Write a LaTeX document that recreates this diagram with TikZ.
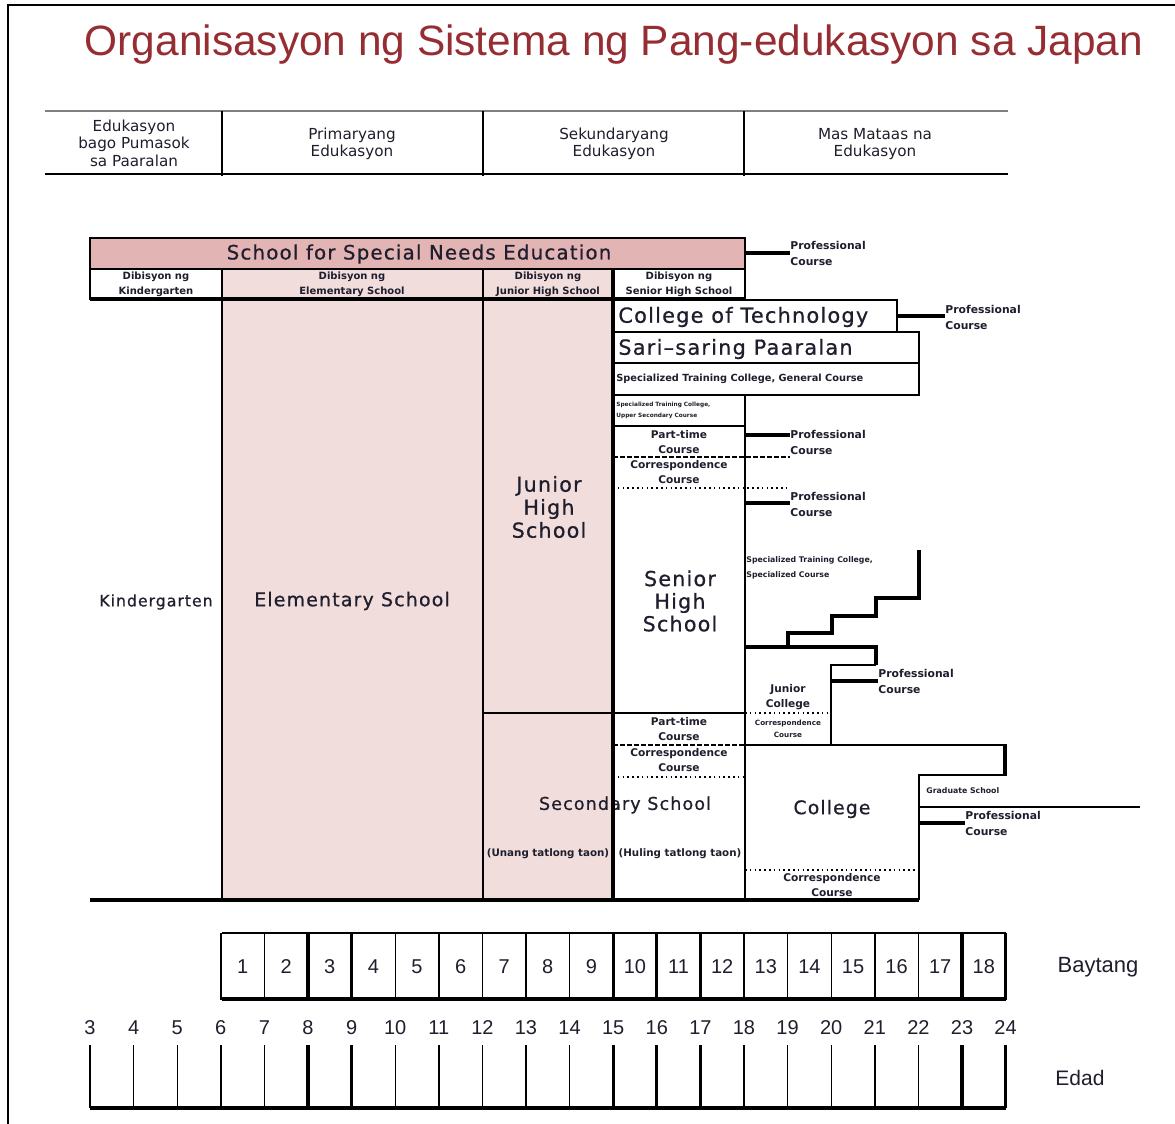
\documentclass[tikz,border=0pt]{standalone}
\usepackage{fontspec}
\setmainfont{DejaVu Sans}
\newfontfamily\arialfont{Liberation Sans}
\newfontfamily\widefont[LetterSpace=6,FakeBold=0.7]{DejaVu Sans}
\usetikzlibrary{positioning}
\definecolor{titlered}{RGB}{150,45,50}
\definecolor{sneedpink}{RGB}{227,180,180}
\definecolor{palepink}{RGB}{242,221,221}
\definecolor{txtcol}{RGB}{30,30,45}
\newcommand{\fsz}[2]{\fontsize{#1}{#2}\selectfont}

\begin{document}
\begin{tikzpicture}[x=0.5pt,y=-0.5pt]
  \tikzstyle{thinline}=[line width=0.7pt]
  \tikzstyle{boxline}=[line width=1pt]
  \tikzstyle{heavy}=[line width=1.6pt]
  \tikzstyle{proflink}=[line width=2.2pt]
  \tikzstyle{dashline}=[line width=0.9pt,dash pattern=on 2.5pt off 1pt]
  \tikzstyle{dotline}=[line width=1.3pt,dash pattern=on 0.8pt off 1.6pt]
  \tikzstyle{lbl}=[inner sep=0pt,align=center,text=txtcol]
  \tikzstyle{bigtxt}=[lbl,font=\widefont\fsz{9.5}{11.5}]
  \tikzstyle{headtxt}=[lbl,font=\fsz{7.6}{8.7}]
  \tikzstyle{divtxt}=[lbl,font=\bfseries\fsz{5}{7.5}]
  \tikzstyle{smalltxt}=[lbl,font=\bfseries\fsz{5.3}{7.8}]
  \tikzstyle{proftxt}=[lbl,anchor=west,align=left,font=\bfseries\fsz{5.4}{8}]
  \tikzstyle{numtxt}=[lbl,font=\arialfont\fsz{10}{12}]
  \useasboundingbox (0,0) rectangle (1175,1124);

  % page frame
  \draw[line width=1pt] (8,1124) -- (8,5) -- (1175,5);
  \node[inner sep=0pt,font=\arialfont\fsz{21.2}{24},text=titlered] (title) at (614,45)
    {Organisasyon ng Sistema ng Pang-edukasyon sa Japan};

  % header row
  \draw[line width=0.6pt,gray] (45,111) -- (1008,111);
  \draw[line width=1.2pt] (45,174) -- (1008,174);
  \foreach \hx in {222,483,744}
    \draw[thinline] (\hx,111) -- (\hx,176);
  \node[headtxt] (pre) at (134,143) {Edukasyon\\bago Pumasok\\sa Paaralan};
  \node[headtxt] (prim) at (352,144) {Primaryang\\Edukasyon};
  \node[headtxt] (sec) at (614,144) {Sekundaryang\\Edukasyon};
  \node[headtxt] (high) at (875,144) {Mas Mataas na\\Edukasyon};

  % special needs
  \draw[thinline,fill=sneedpink] (90,238) rectangle (745,269);
  \node[bigtxt,font=\widefont\fsz{9.9}{11.5}] (sne) at (419,254) {School for Special Needs Education};
  \fill[palepink] (222,269) rectangle (613,900);
  \draw[thinline] (90,269) rectangle (745,299);
  \draw[heavy] (90,299) -- (745,299);
  \node[divtxt] (dkg) at (156,284) {Dibisyon ng\\Kindergarten};
  \node[divtxt] (delem) at (352,284) {Dibisyon ng\\Elementary School};
  \node[divtxt] (djhs) at (548,284) {Dibisyon ng\\Junior High School};
  \node[divtxt] (dshs) at (679,284) {Dibisyon ng\\Senior High School};
  \coordinate (lk1) at (745,253);
  \node[proftxt] (pc1) at (790,253) {Professional\\Course};
  \draw[proflink] (lk1) -- (lk1 -| pc1.west);

  % main columns
  \draw[thinline] (222,269) -- (222,900);
  \draw[thinline] (483,269) -- (483,900);
  \draw[thinline] (483,713) -- (745,713);
  \node[lbl,font=\widefont\fsz{7.9}{10}] (kg) at (156,602) {Kindergarten};
  \node[bigtxt] (elem) at (352,601) {Elementary School};
  \node[bigtxt,font=\widefont\fsz{10.3}{11.5}] (jhs) at (549,507) {Junior\\High\\School};
  \node[bigtxt,font=\widefont\fsz{8.8}{11}] (secsch) at (625,805) {Secondary School};
  \node[smalltxt,font=\bfseries\fsz{5.15}{7.8}] (unang) at (548,854) {(Unang tatlong taon)};
  \node[smalltxt,font=\bfseries\fsz{5.15}{7.8}] (huling) at (680,854) {(Huling tatlong taon)};
  \draw[heavy] (613,269) -- (613,900);
  \draw[heavy] (90,900) -- (919,900);

  % senior high side
  \draw[boxline] (613,300) rectangle (897,332);
  \draw[boxline] (613,332) rectangle (919,363);
  \draw[boxline] (613,363) rectangle (919,395);
  \node[lbl,anchor=west,font=\widefont\fsz{10.4}{12}] (ctech) at (618,317) {College of Technology};
  \node[lbl,anchor=west,font=\widefont\fsz{10.4}{12}] (misc) at (618,349) {Sari–saring Paaralan};
  \node[lbl,anchor=west,font=\bfseries\fsz{4.9}{6}] (stcgen) at (616,379) {Specialized Training College, General Course};
  \node[lbl,anchor=west,align=left,font=\bfseries\fsz{2.9}{5.5}] (stcup) at (616,410) {Specialized Training College,\\Upper Secondary Course};
  \coordinate (lk2) at (897,316);
  \node[proftxt] (pc2) at (945,317) {Professional\\Course};
  \draw[proflink] (lk2) -- (lk2 -| pc2.west);
  \draw[thinline] (613,426) -- (745,426);
  \draw[thinline] (745,395) -- (745,900);
  \node[smalltxt] (pt1) at (679,442) {Part-time\\Course};
  \draw[dashline] (613,457) -- (790,457);
  \node[smalltxt] (cc1) at (679,472) {Correspondence\\Course};
  \draw[dotline] (613,488) -- (790,488);
  \coordinate (lk3) at (745,435);
  \node[proftxt] (pc3) at (790,442) {Professional\\Course};
  \draw[proflink] (lk3) -- (lk3 -| pc3.west);
  \coordinate (lk4) at (745,503);
  \node[proftxt] (pc4) at (790,504) {Professional\\Course};
  \draw[proflink] (lk4) -- (lk4 -| pc4.west);
  \node[bigtxt,font=\widefont\fsz{10.3}{11.3}] (shs) at (680,601) {Senior\\High\\School};
  \node[smalltxt] (pt2) at (679,729) {Part-time\\Course};
  \draw[dashline] (613,745) -- (745,745);
  \node[smalltxt] (cc2) at (679,760) {Correspondence\\Course};
  \draw[dotline] (613,777) -- (745,777);

  % specialized course stairs
  \node[lbl,anchor=west,align=left,font=\bfseries\fsz{3.9}{7.5}] (stcspec) at (746,568)
    {Specialized Training College,\\Specialized Course};
  \draw[heavy] (919,550) -- (919,598) -- (876,598) -- (876,616) -- (832,616)
    -- (832,633) -- (788,633) -- (788,647);
  \draw[heavy] (745,647) -- (876,647) -- (876,665);

  % junior college
  \draw[boxline] (876,665) -- (831,665) -- (831,745);
  \node[smalltxt] (jcol) at (788,697) {Junior\\College};
  \draw[dotline] (745,713) -- (831,713);
  \node[lbl,font=\bfseries\fsz{3.6}{6}] (cc3) at (788,729) {Correspondence\\Course};
  \coordinate (lk5) at (831,681);
  \node[proftxt] (pc5) at (878,681) {Professional\\Course};
  \draw[proflink] (lk5) -- (lk5 -| pc5.west);

  % college
  \draw[boxline] (745,745) -- (1005,745);
  \draw[line width=2.4pt] (1005,744) -- (1005,776);
  \draw[boxline] (1005,775) -- (919,775) -- (919,900);
  \node[bigtxt,font=\widefont\fsz{9.4}{11}] (col) at (832,809) {College};
  \node[lbl,anchor=west,font=\bfseries\fsz{3.9}{5}] (grad) at (926,791) {Graduate School};
  \draw[thinline] (919,807) -- (1140,807);
  \coordinate (lk6) at (919,823);
  \node[proftxt] (pc6) at (965,823) {Professional\\Course};
  \draw[proflink] (lk6) -- (lk6 -| pc6.west);
  \draw[dotline] (745,870) -- (919,870);
  \node[smalltxt] (cc4) at (832,885) {Correspondence\\Course};

  % grade scale
  \draw[thinline] (222,933) -- (1006,933);
  \draw[heavy] (222,999) -- (1006,999);
  \foreach \k in {3,...,21}
    \draw[thinline] ({90+43.6*\k},933) -- ({90+43.6*\k},1000);
  \foreach \k in {5,6,12,13,14,20,21}
    \draw[heavy] ({90+43.6*\k},933) -- ({90+43.6*\k},1000);
  \foreach \g in {1,...,18}
    \node[numtxt] (g\g) at ({90+43.6*(\g+2.5)},967) {\g};
  \node[numtxt,font=\arialfont\fsz{11}{12}] (baytang) at (1098,967) {Baytang};

  % age scale
  \foreach \k in {0,...,21}{
    \pgfmathtruncatemacro\age{\k+3}
    \node[numtxt] (a\age) at ({90+43.6*\k},1028) {\age};
    \draw[thinline] ({90+43.6*\k},1045) -- ({90+43.6*\k},1108);
  }
  \foreach \k in {5,6,12,13,14,20,21}
    \draw[heavy] ({90+43.6*\k},1045) -- ({90+43.6*\k},1108);
  \draw[line width=2pt] (90,1108) -- (1006,1108);
  \node[numtxt,font=\arialfont\fsz{10.5}{12}] (edad) at (1080,1078) {Edad};
\end{tikzpicture}
\end{document}
